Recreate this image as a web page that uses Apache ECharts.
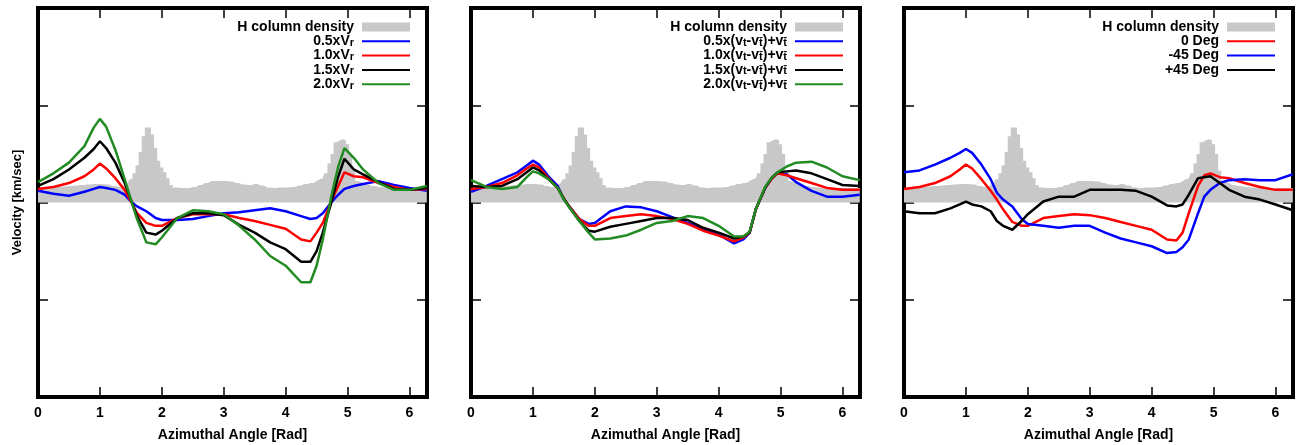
<!DOCTYPE html>
<html>
<head>
<meta charset="utf-8">
<script src="https://cdn.jsdelivr.net/npm/echarts@6/dist/echarts.min.js"></script>
<style>html,body{margin:0;padding:0;background:#fff;}#c{width:1305px;height:445px;}</style>
</head>
<body>
<div id="c"></div>
<script>
// ---------- DATA ----------
const xTicks = [0, 1, 2, 3, 4, 5, 6];
const angles = [0, 0.25, 0.5, 0.75, 0.9, 1.0, 1.1, 1.25, 1.4, 1.5, 1.6, 1.75, 1.9, 2.0, 2.25, 2.5, 2.75, 3.0, 3.25, 3.5, 3.75, 4.0, 4.25, 4.4, 4.5, 4.6, 4.75, 4.85, 4.95, 5.1, 5.25, 5.5, 5.75, 6.0, 6.28];

// H column density histogram (arbitrary units on the same axis)
const densAngles = [0.0,0.1,0.2,0.3,0.4,0.5,0.6,0.7,0.8,0.9,1.0,1.1,1.2,1.3,1.4,1.45,1.5,1.55,1.6,1.65,1.7,1.75,1.8,1.85,1.9,1.95,2.0,2.05,2.1,2.15,2.2,2.3,2.4,2.5,2.6,2.7,2.8,2.9,3.0,3.1,3.2,3.3,3.4,3.5,3.6,3.7,3.8,3.9,4.0,4.1,4.2,4.3,4.4,4.5,4.55,4.6,4.65,4.7,4.75,4.8,4.85,4.9,4.95,5.0,5.05,5.1,5.15,5.2,5.3,5.4,5.5,5.6,5.7,5.8,5.9,6.0,6.1,6.2,6.28];
const density = [0.15,0.15,0.155,0.16,0.165,0.17,0.175,0.18,0.185,0.19,0.19,0.185,0.17,0.16,0.18,0.2,0.24,0.3,0.38,0.52,0.68,0.77,0.77,0.7,0.56,0.43,0.36,0.31,0.25,0.18,0.155,0.15,0.15,0.16,0.18,0.2,0.22,0.22,0.22,0.215,0.2,0.185,0.18,0.19,0.175,0.155,0.15,0.155,0.155,0.16,0.175,0.19,0.2,0.22,0.24,0.25,0.3,0.4,0.5,0.62,0.64,0.65,0.64,0.6,0.5,0.33,0.22,0.2,0.18,0.17,0.16,0.155,0.15,0.15,0.15,0.15,0.15,0.15,0.15];

// Panel 1: scaled radial velocity
const p1Names = ['0.5xVr', '1.0xVr', '1.5xVr', '2.0xVr'];
const p1Labels = ['0.5xV{s|r}', '1.0xV{s|r}', '1.5xV{s|r}', '2.0xV{s|r}'];
const p1Blue  = [0.12,0.09,0.07,0.11,0.14,0.16,0.15,0.13,0.08,0.01,-0.04,-0.09,-0.16,-0.18,-0.18,-0.17,-0.14,-0.11,-0.10,-0.08,-0.06,-0.09,-0.14,-0.17,-0.16,-0.11,0.01,0.08,0.14,0.17,0.19,0.22,0.18,0.15,0.12];
const p1Red   = [0.14,0.16,0.20,0.27,0.34,0.40,0.35,0.25,0.13,0.01,-0.11,-0.21,-0.24,-0.24,-0.16,-0.12,-0.12,-0.12,-0.16,-0.19,-0.23,-0.27,-0.38,-0.40,-0.31,-0.21,0.03,0.17,0.31,0.27,0.26,0.20,0.16,0.13,0.14];
const p1Black = [0.17,0.24,0.34,0.46,0.55,0.63,0.56,0.41,0.20,0.03,-0.14,-0.31,-0.33,-0.29,-0.16,-0.11,-0.11,-0.13,-0.23,-0.31,-0.41,-0.48,-0.61,-0.61,-0.50,-0.31,0.03,0.27,0.45,0.34,0.29,0.21,0.14,0.13,0.15];
const p1Green = [0.21,0.30,0.41,0.58,0.77,0.86,0.78,0.54,0.24,0.03,-0.17,-0.41,-0.43,-0.36,-0.16,-0.08,-0.09,-0.12,-0.24,-0.38,-0.55,-0.65,-0.82,-0.82,-0.65,-0.38,0.10,0.37,0.56,0.46,0.34,0.20,0.13,0.13,0.17];

// Panel 2: scaled tangential velocity deviation
const p2Names = ['0.5x(vt-vt)+vt', '1.0x(vt-vt)+vt', '1.5x(vt-vt)+vt', '2.0x(vt-vt)+vt'];
const p2Labels = ['0.5x(v{s|t}-v{s|t\u0304})+v{s|t\u0304}', '1.0x(v{s|t}-v{s|t\u0304})+v{s|t\u0304}', '1.5x(v{s|t}-v{s|t\u0304})+v{s|t\u0304}', '2.0x(v{s|t}-v{s|t\u0304})+v{s|t\u0304}'];
const p2Blue  = [0.11,0.17,0.24,0.31,0.38,0.43,0.39,0.27,0.17,0.03,-0.05,-0.17,-0.22,-0.21,-0.09,-0.04,-0.05,-0.09,-0.15,-0.21,-0.28,-0.33,-0.42,-0.38,-0.31,-0.07,0.15,0.24,0.30,0.29,0.21,0.12,0.06,0.06,0.08];
const p2Red   = [0.14,0.16,0.20,0.28,0.35,0.39,0.36,0.25,0.15,0.04,-0.05,-0.17,-0.24,-0.24,-0.16,-0.14,-0.12,-0.14,-0.17,-0.22,-0.29,-0.34,-0.40,-0.36,-0.31,-0.07,0.15,0.24,0.30,0.28,0.25,0.20,0.15,0.13,0.13];
const p2Black = [0.17,0.16,0.17,0.24,0.31,0.36,0.33,0.24,0.15,0.04,-0.06,-0.19,-0.29,-0.30,-0.25,-0.22,-0.19,-0.16,-0.16,-0.18,-0.26,-0.31,-0.37,-0.35,-0.31,-0.07,0.15,0.25,0.31,0.32,0.33,0.30,0.24,0.18,0.17];
const p2Green = [0.23,0.16,0.14,0.16,0.26,0.32,0.30,0.24,0.15,0.03,-0.06,-0.19,-0.31,-0.38,-0.37,-0.34,-0.28,-0.21,-0.19,-0.14,-0.16,-0.24,-0.35,-0.35,-0.30,-0.07,0.16,0.25,0.31,0.37,0.41,0.42,0.36,0.27,0.23];

// Panel 3: inclination
const p3Names = ['0 Deg', '-45 Deg', '+45 Deg'];
const p3Labels = ['0 Deg', '-45 Deg', '+45 Deg'];
const p3Red   = [0.14,0.16,0.20,0.27,0.34,0.39,0.35,0.24,0.12,0.03,-0.07,-0.20,-0.24,-0.24,-0.16,-0.14,-0.12,-0.13,-0.16,-0.20,-0.24,-0.28,-0.38,-0.39,-0.31,-0.11,0.17,0.28,0.30,0.26,0.25,0.20,0.16,0.13,0.13];
const p3Blue  = [0.31,0.33,0.39,0.46,0.51,0.55,0.51,0.39,0.24,0.10,0.03,-0.04,-0.17,-0.22,-0.24,-0.26,-0.24,-0.24,-0.31,-0.37,-0.41,-0.45,-0.52,-0.51,-0.46,-0.38,-0.11,0.06,0.13,0.20,0.23,0.24,0.23,0.23,0.29];
const p3Black = [-0.09,-0.11,-0.11,-0.06,-0.02,0.01,-0.02,-0.04,-0.09,-0.19,-0.24,-0.28,-0.19,-0.12,0.01,0.06,0.06,0.13,0.13,0.13,0.12,0.06,-0.03,-0.04,-0.02,0.08,0.25,0.26,0.27,0.20,0.13,0.06,0.03,-0.02,-0.08];

const densName = 'H column density';

// ---------- BUILD ----------
const FONT = '"Liberation Sans", Arial, Helvetica, sans-serif';
const BLUE = '#0000ff', RED = '#ff0000', BLACK = '#000000', GREEN = '#228b22', GRAY = '#c8c8c8';
const TWO_PI = 6.2832;

const gridLefts = [38, 471, 904];
const GW = 389, GTOP = 8, GH = 389;

function pairs(xs, ys) { return xs.map((x, i) => [x, ys[i]]); }

const panels = [
  { names: p1Names, labels: p1Labels, data: [p1Blue, p1Red, p1Black, p1Green], colors: [BLUE, RED, BLACK, GREEN] },
  { names: p2Names, labels: p2Labels, data: [p2Blue, p2Red, p2Black, p2Green], colors: [BLUE, RED, BLACK, GREEN] },
  { names: p3Names, labels: p3Labels, data: [p3Red, p3Blue, p3Black], colors: [RED, BLUE, BLACK] }
];

const labelMap = {};
labelMap[densName] = densName;
panels.forEach(p => p.names.forEach((n, i) => { labelMap[n] = p.labels[i]; }));

const grids = [], xAxes = [], yAxes = [], series = [], legends = [];
const tickStyle = { show: true, inside: true, length: 10, lineStyle: { color: '#000', width: 1.5 } };
const legendRights = [894, 461, 29];

panels.forEach((p, gi) => {
  grids.push({ left: gridLefts[gi], top: GTOP, width: GW, height: GH, show: true, borderColor: '#000', borderWidth: 4, backgroundColor: 'transparent', containLabel: false, outerBoundsMode: 'none' });
  const xb = xAxes.length;
  xAxes.push({
    gridIndex: gi, type: 'value', position: 'bottom', min: 0, max: TWO_PI, interval: 1,
    axisLine: { show: false, onZero: false }, axisTick: tickStyle, splitLine: { show: false },
    axisLabel: { show: true, margin: 9, color: '#000', fontSize: 14, fontWeight: 'bold', fontFamily: FONT,
      formatter: v => (xTicks.indexOf(Math.round(v)) >= 0 && Math.abs(v - Math.round(v)) < 1e-6) ? String(Math.round(v)) : '' },
    name: 'Azimuthal Angle [Rad]', nameLocation: 'middle', nameGap: 31,
    nameTextStyle: { color: '#000', fontSize: 14, fontWeight: 'bold', fontFamily: FONT }
  });
  xAxes.push({
    gridIndex: gi, type: 'value', position: 'top', min: 0, max: TWO_PI, interval: 1,
    axisLine: { show: false, onZero: false }, axisTick: tickStyle, splitLine: { show: false }, axisLabel: { show: false }
  });
  const yl = yAxes.length;
  yAxes.push({
    gridIndex: gi, type: 'value', position: 'left', min: -2, max: 2, interval: 1,
    axisLine: { show: false, onZero: false }, axisTick: tickStyle, splitLine: { show: false }, axisLabel: { show: false },
    name: gi === 0 ? 'Velocity [km/sec]' : '', nameLocation: 'middle', nameGap: 14,
    nameTextStyle: { color: '#000', fontSize: 13, fontWeight: 'bold', fontFamily: FONT }
  });
  yAxes.push({
    gridIndex: gi, type: 'value', position: 'right', min: -2, max: 2, interval: 1,
    axisLine: { show: false, onZero: false }, axisTick: tickStyle, splitLine: { show: false }, axisLabel: { show: false }
  });

  series.push({
    name: densName, type: 'line', xAxisIndex: xb, yAxisIndex: yl, step: 'middle',
    data: pairs(densAngles, density), symbol: 'none', color: GRAY,
    lineStyle: { width: 0, color: GRAY }, areaStyle: { color: GRAY, opacity: 1 }, z: 1, silent: true
  });
  p.names.forEach((n, i) => {
    series.push({
      name: n, type: 'line', xAxisIndex: xb, yAxisIndex: yl, data: pairs(angles, p.data[i]),
      symbol: 'none', color: p.colors[i], lineStyle: { width: 2.5, color: p.colors[i] }, z: 3 + i, silent: true
    });
  });

  legends.push({
    orient: 'vertical', align: 'right', right: legendRights[gi], top: 20, padding: 0, itemGap: 0.3,
    itemWidth: 48, itemHeight: 9, selectedMode: false,
    data: [{ name: densName, icon: 'rect', itemStyle: { opacity: 1 } }].concat(p.names.map(n => ({ name: n, itemStyle: { opacity: 0 } }))),
    formatter: name => labelMap[name],
    textStyle: {
      color: '#000', fontSize: 14, fontWeight: 'bold', fontFamily: FONT, lineHeight: 14, padding: [0, 3, 0, 0],
      rich: { s: { fontSize: 11, fontWeight: 'bold', fontFamily: FONT, color: '#000', lineHeight: 1, verticalAlign: 'bottom' } }
    }
  });
});

const chart = echarts.init(document.getElementById('c'), null, { renderer: 'canvas' });
chart.setOption({
  animation: false,
  backgroundColor: '#fff',
  grid: grids,
  xAxis: xAxes,
  yAxis: yAxes,
  legend: legends,
  series: series
});
</script>
</body>
</html>
